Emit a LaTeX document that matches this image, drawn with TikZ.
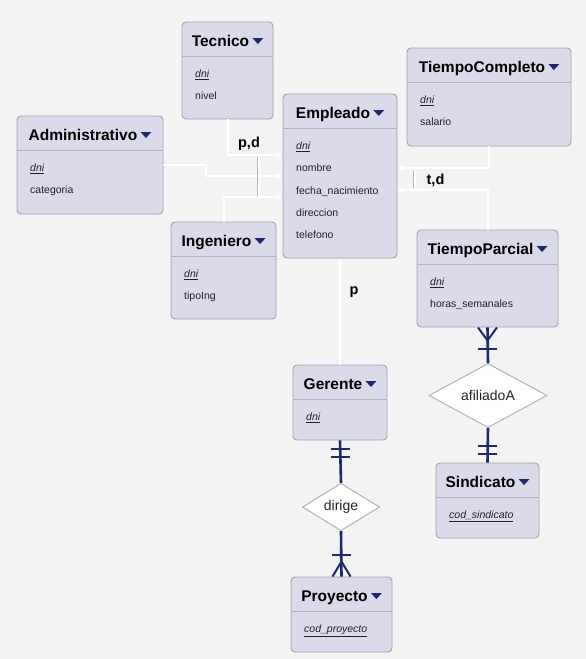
\documentclass[tikz,border=0pt]{standalone}
\usepackage{fontspec}
\setmainfont{Liberation Sans}
\usetikzlibrary{fit,shapes.geometric,arrows.meta}
\definecolor{bgc}{HTML}{F3F3F3}
\definecolor{boxfill}{HTML}{DADAEB}
\definecolor{boxline}{HTML}{A2A2AC}
\definecolor{sepc}{HTML}{B2B2C2}
\definecolor{navy}{HTML}{1B2A6B}
\definecolor{txt}{HTML}{222222}
\tikzset{
  entbox/.style={draw=boxline, fill=boxfill, line width=0.9pt, rounded corners=4pt, inner sep=0pt},
  sepline/.style={draw=sepc, line width=0.9pt},
  enttitle/.style={anchor=base, inner sep=0pt, font=\fontsize{15.5}{18}\selectfont\bfseries},
  attr/.style={anchor=base west, inner sep=0pt, text=txt, font=\fontsize{10.5}{12}\selectfont},
  isa/.style={draw=white, line width=2pt, -{Triangle[length=6pt,width=6.5pt,fill=white]}},
  crow/.style={draw=navy, line width=2.6pt},
  crowfoot/.style={draw=navy, line width=2pt},
  rel/.style={diamond, draw=gray!70, fill=white, line width=0.8pt, inner sep=0pt, text=txt, font=\fontsize{14}{16}\selectfont},
  lbl/.style={anchor=base, inner sep=0pt, font=\fontsize{14.5}{16}\selectfont\bfseries},
}
\newcommand\erbox[7]{%
  \node[entbox, fit={(#2,#3)(#4,#5)}] (#1) {};
  \draw[sepline] (#2,#3+34) -- (#4,#3+34);
  \node[enttitle] (#1-t) at ({(#2+#4)/2},#3+24.5) {#6\rule{14pt}{0pt}};
  \fill[navy, sharp corners] ([xshift=-11pt,yshift=8.5pt]#1-t.base east) -- ++(11,0) -- ++(-5.5,6) -- cycle;
  \foreach \a [count=\i from 0] in {#7}
    \node[attr] (#1-a\i) at (#2+13, #3+34+21.5+22.3*\i) {\a};
}
\newcommand\pk[1]{\underline{\textit{#1}}}
\begin{document}
\begin{tikzpicture}[x=1pt,y=-1pt]
\fill[bgc] (0,0) rectangle (586,659);
\useasboundingbox (0,0) rectangle (586,659);

\erbox{tec}{182}{22}{273}{119}{Tecnico}{\pk{dni},nivel}
\erbox{emp}{283}{94}{397}{258}{Empleado}{\pk{dni},nombre,fecha\_nacimiento,direccion,telefono}
\erbox{adm}{17}{116}{163}{214}{Administrativo}{\pk{dni},categoria}
\erbox{ing}{171}{222}{276}{319}{Ingeniero}{\pk{dni},tipoIng}
\erbox{tc}{407}{48}{571}{146}{TiempoCompleto}{\pk{dni},salario}
\erbox{tp}{417}{230}{558}{327}{TiempoParcial}{\pk{dni},horas\_semanales}
\erbox{ger}{293}{365}{387}{440}{Gerente}{\pk{dni}}
\erbox{pro}{291}{577}{392}{652}{Proyecto}{\pk{cod\_proyecto}}
\erbox{sin}{436}{463}{539}{538}{Sindicato}{\pk{cod\_sindicato}}

\node[rel, minimum width=77pt, minimum height=40pt] (dir) at (341,507) {dirige};
\node[rel, minimum width=118pt, minimum height=41pt] (afi) at (488,395.5) {afiliadoA};

% ISA connectors
\draw[isa] (tec.south) |- ([yshift=21pt]emp.west);
\draw[isa] (adm.east) -- ++(43,0) |- (emp.west);
\draw[isa] (ing.north) |- ([yshift=-21pt]emp.west);
\draw[isa] (tc.south) |- ([yshift=8pt]emp.east);
\draw[isa] (tp.north) |- ([yshift=-14pt]emp.east);
\draw[isa] (ger.north) -- (emp.south);

% disjoint markers
\draw[gray!55, line width=1pt] (257,157) -- (257,197);
\draw[white, line width=2pt] (258.6,157) -- (258.6,197);
\draw[gray!55, line width=1pt] (413,171) -- (413,188);
\draw[white, line width=2pt] (414.6,171) -- (414.6,188);

\node[lbl] (pd) at (249,147) {p,d};
\node[lbl] (tdl) at (435.5,184.5) {t,d};
\node[lbl] (pl) at (354,294) {p};

% relationships
\draw[crow] (ger.south) -- (dir.north);
\draw[crow] (dir.south) -- (pro.north);
\draw[crow] (tp.south) -- (afi.north);
\draw[crow] (afi.south) -- (sin.north);

% Gerente: one and only one
\draw[crowfoot] ([xshift=-9.5pt,yshift=-9pt]ger.south) -- ([xshift=9.5pt,yshift=-9pt]ger.south);
\draw[crowfoot] ([xshift=-9.5pt,yshift=-17pt]ger.south) -- ([xshift=9.5pt,yshift=-17pt]ger.south);
% Proyecto: one or many
\draw[crowfoot] ([xshift=-9.5pt,yshift=22pt]pro.north) -- ([xshift=9.5pt,yshift=22pt]pro.north);
\draw[crowfoot] ([xshift=-9pt]pro.north) -- ([yshift=15pt]pro.north) -- ([xshift=9pt]pro.north);
% TiempoParcial: one or many
\draw[crowfoot] ([xshift=-9.5pt,yshift=-22pt]tp.south) -- ([xshift=9.5pt,yshift=-22pt]tp.south);
\draw[crowfoot] ([xshift=-9.5pt]tp.south) -- ([yshift=-13pt]tp.south) -- ([xshift=9.5pt]tp.south);
% Sindicato: one and only one
\draw[crowfoot] ([xshift=-9.5pt,yshift=17pt]sin.north) -- ([xshift=9.5pt,yshift=17pt]sin.north);
\draw[crowfoot] ([xshift=-9.5pt,yshift=9pt]sin.north) -- ([xshift=9.5pt,yshift=9pt]sin.north);
\end{tikzpicture}
\end{document}
